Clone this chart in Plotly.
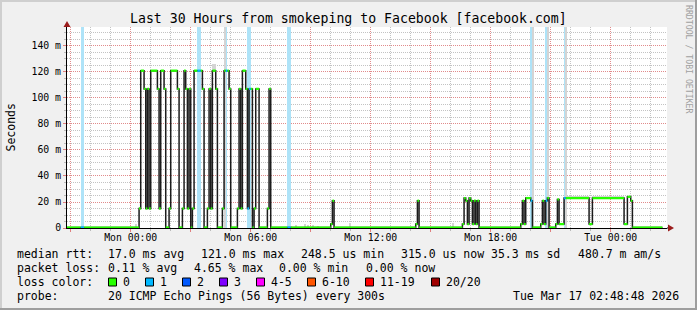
import plotly.graph_objects as go
import pandas as pd

FONT = "DejaVu Sans Mono"

# ---------------- data ----------------
title = "Last 30 Hours from smokeping to Facebook [facebook.com]"
x_start = "2026-03-15 20:48:48"
x_end = "2026-03-17 02:48:48"
y_top = 154.6  # ms

x_tick_times = ["2026-03-15 21:00", "2026-03-16 00:00", "2026-03-16 03:00", "2026-03-16 06:00",
                "2026-03-16 09:00", "2026-03-16 12:00", "2026-03-16 15:00", "2026-03-16 18:00",
                "2026-03-16 21:00", "2026-03-17 00:00"]
x_tick_labels = ["", "Mon 00:00", "", "Mon 06:00", "", "Mon 12:00", "", "Mon 18:00", "", "Tue 00:00"]
y_tick_vals = [0, 20, 40, 60, 80, 100, 120, 140]
y_tick_labels = ["0", "20 m", "40 m", "60 m", "80 m", "100 m", "120 m", "140 m"]

# median RTT (ms), step changes: each value holds until the next time
step_times = [
    "2026-03-15 20:48:48",
    "2026-03-16 00:25", "2026-03-16 00:30", "2026-03-16 00:40", "2026-03-16 00:45", "2026-03-16 00:50",
    "2026-03-16 00:55", "2026-03-16 01:00", "2026-03-16 01:20", "2026-03-16 01:25", "2026-03-16 01:30",
    "2026-03-16 01:40", "2026-03-16 01:45", "2026-03-16 01:55", "2026-03-16 02:00", "2026-03-16 02:20",
    "2026-03-16 02:25", "2026-03-16 02:35", "2026-03-16 02:40", "2026-03-16 02:45", "2026-03-16 02:50",
    "2026-03-16 02:55", "2026-03-16 03:00", "2026-03-16 03:05", "2026-03-16 03:10", "2026-03-16 03:35",
    "2026-03-16 03:40", "2026-03-16 03:50", "2026-03-16 03:55", "2026-03-16 04:00", "2026-03-16 04:05",
    "2026-03-16 04:15", "2026-03-16 04:20", "2026-03-16 04:35", "2026-03-16 04:40", "2026-03-16 04:55",
    "2026-03-16 05:00", "2026-03-16 05:20", "2026-03-16 05:25", "2026-03-16 05:30", "2026-03-16 05:35",
    "2026-03-16 05:45", "2026-03-16 05:50", "2026-03-16 05:55", "2026-03-16 06:05", "2026-03-16 06:10",
    "2026-03-16 06:15", "2026-03-16 06:25", "2026-03-16 06:50", "2026-03-16 06:55", "2026-03-16 07:00",
    "2026-03-16 10:00", "2026-03-16 10:05", "2026-03-16 10:10",
    "2026-03-16 14:15", "2026-03-16 14:20", "2026-03-16 14:25",
    "2026-03-16 16:35", "2026-03-16 16:40", "2026-03-16 16:45", "2026-03-16 16:50", "2026-03-16 16:55",
    "2026-03-16 17:00", "2026-03-16 17:05", "2026-03-16 17:10", "2026-03-16 17:15", "2026-03-16 17:20",
    "2026-03-16 17:25",
    "2026-03-16 19:30", "2026-03-16 19:35", "2026-03-16 19:40", "2026-03-16 19:45", "2026-03-16 20:00",
    "2026-03-16 20:05",
    "2026-03-16 20:30", "2026-03-16 20:35", "2026-03-16 20:40", "2026-03-16 20:45", "2026-03-16 20:50",
    "2026-03-16 20:55",
    "2026-03-16 21:15", "2026-03-16 21:20", "2026-03-16 21:25", "2026-03-16 21:40", "2026-03-16 22:55",
    "2026-03-16 23:05",
    "2026-03-17 00:40", "2026-03-17 00:50", "2026-03-17 01:00", "2026-03-17 01:05", "2026-03-17 02:35",
]
median_ms = [
    0.3,
    15, 121, 107, 15, 107,
    15, 121, 107, 15, 121,
    107, 0.3, 15, 121, 107,
    0.3, 15, 121, 107, 15,
    107, 0.3, 15, 121, 107,
    0.3, 15, 107, 15, 121,
    107, 0.3, 15, 121, 107,
    0.3, 15, 107, 15, 121,
    107, 15, 107, 0.3, 15,
    107, 0.3, 15, 107, 0.3,
    3, 21, 0.3,
    3, 21, 0.3,
    3, 23, 21, 3, 23,
    21, 3, 21, 3, 21,
    0.3,
    3, 21, 3, 23, 21,
    0.3,
    3, 21, 3, 21, 23,
    0.3,
    3, 22, 3, 23, 3,
    23,
    3, 24, 21, 0.3, 0.3,
]

# intervals with lost pings (count of 20)
loss_start = ["2026-03-15 21:30", "2026-03-16 03:20", "2026-03-16 04:45", "2026-03-16 05:50",
              "2026-03-16 07:50", "2026-03-16 20:00", "2026-03-16 20:45", "2026-03-16 21:40"]
loss_end = ["2026-03-15 21:40", "2026-03-16 03:30", "2026-03-16 04:50", "2026-03-16 06:00",
            "2026-03-16 08:00", "2026-03-16 20:05", "2026-03-16 20:50", "2026-03-16 21:45"]
loss_count = [1, 1, 1, 1, 1, 1, 1, 1]

# smoke (spread of the 20 pings)
smoke_start = ["2026-03-16 00:15", "2026-03-16 04:05", "2026-03-16 04:40", "2026-03-16 08:00",
               "2026-03-16 08:15", "2026-03-16 08:40", "2026-03-16 08:50", "2026-03-16 09:05",
               "2026-03-16 09:20", "2026-03-16 10:55", "2026-03-16 16:05", "2026-03-16 20:05",
               "2026-03-16 20:50", "2026-03-16 21:45", "2026-03-16 21:50", "2026-03-16 23:05"]
smoke_end = ["2026-03-16 00:20", "2026-03-16 04:15", "2026-03-16 04:45", "2026-03-16 08:05",
             "2026-03-16 08:20", "2026-03-16 08:45", "2026-03-16 08:55", "2026-03-16 09:10",
             "2026-03-16 09:25", "2026-03-16 11:00", "2026-03-16 16:10", "2026-03-16 20:10",
             "2026-03-16 20:55", "2026-03-16 21:50", "2026-03-16 22:55", "2026-03-17 00:40"]
smoke_lo = [0.3, 121, 0.3, 0.3, 0.3, 0.3, 0.3, 0.3, 0.3, 0.3, 0.3, 0.3, 0.3, 0.3, 23.5, 23.5]
smoke_hi = [3, 126, 160, 1.5, 2, 3, 2.5, 2, 1.5, 4, 4, 160, 160, 160, 25, 25]

median_stats = ["17.0 ms avg", "121.0 ms max", "248.5 us min", "315.0 us now", "35.3 ms sd", "480.7 m am/s"]
loss_stats = ["0.11 % avg", "4.65 % max", "0.00 % min", "0.00 % now"]
loss_color_labels = ["0", "1", "2", "3", "4-5", "6-10", "11-19", "20/20"]
loss_color_values = ["#26ff00", "#00b8ff", "#0059ff", "#7e00ff", "#ff00ff", "#ff5500", "#ff0000", "#a00000"]
loss_back_colors = {1: "#aee3f8"}
probe_text = "20 ICMP Echo Pings (56 Bytes) every 300s"
timestamp = "Tue Mar 17 02:48:48 2026"

# ---------------- layout geometry (px) ----------------
W, H = 697, 310
L, R, T, B = 67, 667, 27, 228


def px(x):
    return (x - L) / (R - L)


def py(y):
    return (B - y) / (B - T)


def to_dt(seq):
    return [pd.Timestamp(s) for s in seq]


fig = go.Figure()

# loss background bands
ls = to_dt(loss_start)
le = to_dt(loss_end)
fig.add_trace(go.Bar(
    x=ls, y=[y_top] * len(ls), base=0, offset=0,
    width=[(b - a).total_seconds() * 1000 for a, b in zip(ls, le)],
    marker=dict(color=[loss_back_colors[c] for c in loss_count], line=dict(width=0)),
    hoverinfo="skip"))

# smoke
ss = to_dt(smoke_start)
se = to_dt(smoke_end)
fig.add_trace(go.Bar(
    x=ss, y=[min(h, y_top) - l for l, h in zip(smoke_lo, smoke_hi)], base=smoke_lo, offset=0,
    width=[(b - a).total_seconds() * 1000 for a, b in zip(ss, se)],
    marker=dict(color="#d4d4d4", line=dict(width=0)),
    hoverinfo="skip"))

# median line (dark, with vertical transitions)
st = to_dt(step_times)
fig.add_trace(go.Scatter(x=st, y=median_ms, mode="lines", line=dict(color="#1c1c1c", width=1.5, shape="hv"),
                         hoverinfo="skip"))

# colored median segments by loss
bps = sorted(set(st + ls + le))
bps = [b for b in bps if st[0] <= b <= st[-1]]


def median_at(t):
    v = median_ms[0]
    for tt, vv in zip(st, median_ms):
        if tt <= t:
            v = vv
    return v


def loss_at(t):
    for a, b, c in zip(ls, le, loss_count):
        if a <= t < b:
            return c
    return 0


runs = []
for a, b in zip(bps[:-1], bps[1:]):
    v, c = median_at(a), loss_at(a)
    if runs and runs[-1][2] == v and runs[-1][3] == c:
        runs[-1][1] = b
    else:
        runs.append([a, b, v, c])

for c in sorted(set(r[3] for r in runs)):
    xs, ys = [], []
    for a, b, v, cc in runs:
        if cc == c:
            xs += [a, b, None]
            ys += [v, v, None]
    fig.add_trace(go.Scatter(x=xs, y=ys, mode="lines", line=dict(color=loss_color_values[c], width=2.3),
                             hoverinfo="skip", connectgaps=False))

RED_GRID = "rgba(235,120,120,0.75)"
GRAY_GRID = "rgba(170,170,170,0.7)"

fig.update_layout(
    width=W, height=H,
    margin=dict(l=L, r=W - R, t=T, b=H - B, pad=0),
    paper_bgcolor="#f0f0f0", plot_bgcolor="#ffffff",
    showlegend=False, barmode="overlay", bargap=0,
    font=dict(family=FONT, color="#000000"),
    xaxis=dict(type="date", range=[x_start, x_end], tickmode="array", tickvals=x_tick_times,
               ticktext=x_tick_labels, showgrid=True, gridcolor=RED_GRID, griddash="1px,1px", gridwidth=1,
               ticks="outside", ticklen=3, tickcolor="#e08080", tickfont=dict(size=9.8, family=FONT),
               ticklabelstandoff=-3,
               showline=True, linecolor="#000000", linewidth=1, zeroline=False,
               minor=dict(dtick=3600000, tick0="2026-03-15 21:00", showgrid=True, gridcolor=GRAY_GRID,
                          griddash="1px,1px", ticks="outside", ticklen=2, tickcolor="#bbbbbb")),
    yaxis=dict(range=[0, y_top], tickmode="array", tickvals=y_tick_vals, ticktext=y_tick_labels,
               showgrid=True, gridcolor=RED_GRID, griddash="1px,1px", gridwidth=1,
               ticks="outside", ticklen=3, tickcolor="#e08080", tickfont=dict(size=9.8, family=FONT),
               showline=True, linecolor="#000000", linewidth=1, zeroline=False,
               minor=dict(dtick=5, tick0=0, showgrid=True, gridcolor=GRAY_GRID, griddash="1px,1px",
                          ticks="outside", ticklen=2, tickcolor="#bbbbbb")),
)

shapes = []
# frame
shapes.append(dict(type="rect", xref="paper", yref="paper", x0=px(0), x1=px(W), y0=py(0), y1=py(2),
                   fillcolor="#cfcfcf", line=dict(width=0), layer="above"))
shapes.append(dict(type="rect", xref="paper", yref="paper", x0=px(0), x1=px(2), y0=py(0), y1=py(H),
                   fillcolor="#cfcfcf", line=dict(width=0), layer="above"))
shapes.append(dict(type="rect", xref="paper", yref="paper", x0=px(0), x1=px(W), y0=py(H - 2), y1=py(H),
                   fillcolor="#9e9e9e", line=dict(width=0), layer="above"))
shapes.append(dict(type="rect", xref="paper", yref="paper", x0=px(W - 2), x1=px(W), y0=py(0), y1=py(H),
                   fillcolor="#9e9e9e", line=dict(width=0), layer="above"))
# axis extensions + arrows
shapes.append(dict(type="line", xref="paper", yref="paper", x0=px(R), x1=px(669), y0=0, y1=0,
                   line=dict(color="#000000", width=1)))
shapes.append(dict(type="line", xref="paper", yref="paper", x0=0, x1=0, y0=1, y1=py(24),
                   line=dict(color="#000000", width=1)))
shapes.append(dict(type="path", xref="paper", yref="paper",
                   path=f"M {px(668)} {py(224.5)} L {px(674)} {py(228)} L {px(668)} {py(231.5)} Z",
                   fillcolor="#9b1c1c", line=dict(width=0)))
shapes.append(dict(type="path", xref="paper", yref="paper",
                   path=f"M {px(63.5)} {py(27)} L {px(67)} {py(21)} L {px(70.5)} {py(27)} Z",
                   fillcolor="#9b1c1c", line=dict(width=0)))

annotations = []


def txt(x, y, s, size=11.5, anchor="left", color="#000000", angle=0):
    annotations.append(dict(xref="paper", yref="paper", x=px(x), y=py(y), text=s, showarrow=False,
                            xanchor=anchor, yanchor="middle", textangle=angle, borderpad=0,
                            font=dict(family=FONT, size=size, color=color)))


txt(348, 19, title, size=13.2, anchor="center")
txt(10, 127.5, "Seconds", size=11.5, anchor="center", angle=-90)
txt(689, 59, "RRDTOOL / TOBI OETIKER", size=8.2, anchor="center", color="#a0a0a0", angle=90)

LY = [254, 268, 282, 296]
txt(16, LY[0], "median rtt:")
for x, s in zip([107, 200, 300, 400, 490, 577], median_stats):
    txt(x, LY[0], s)
txt(16, LY[1], "packet loss:")
for x, s in zip([107, 193, 278, 365], loss_stats):
    txt(x, LY[1], s)
txt(16, LY[2], "loss color:")
for x, lab, col in zip([108, 145, 182, 219, 256, 307, 365, 431], loss_color_labels, loss_color_values):
    shapes.append(dict(type="rect", xref="paper", yref="paper", x0=px(x + 0.5), x1=px(x + 8.5),
                       y0=py(278), y1=py(286), fillcolor=col, line=dict(color="#000000", width=1)))
    txt(x + 14, LY[2], lab)
txt(16, LY[3], "probe:")
txt(107, LY[3], probe_text)
txt(680, LY[3], timestamp, anchor="right")

fig.update_layout(shapes=shapes, annotations=annotations)
fig.write_html("out.html", config={"displayModeBar": False})
